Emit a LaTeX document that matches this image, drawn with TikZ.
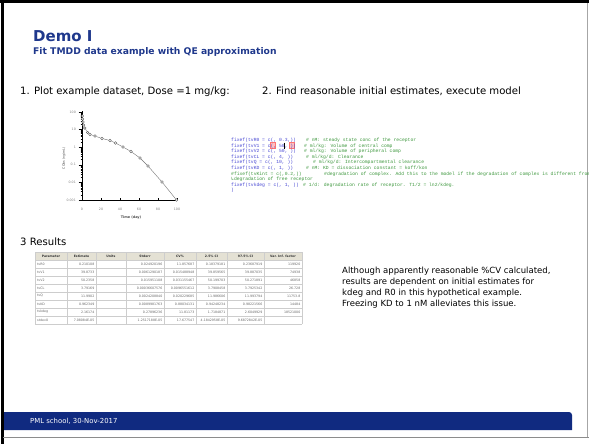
\documentclass[tikz,border=0pt]{standalone}
\usepackage{fontspec}
\setmainfont{DejaVu Sans}
\newfontfamily\codefont{Liberation Mono}
\newfontfamily\arrowfont{DejaVu Sans Mono}
\usetikzlibrary{positioning}
\definecolor{titleblue}{RGB}{31,56,140}
\definecolor{footblue}{RGB}{16,42,128}
\definecolor{codeblue}{RGB}{70,70,210}
\definecolor{cmtgreen}{RGB}{60,150,60}
\definecolor{hdrfill}{RGB}{228,225,212}
\definecolor{gridgray}{RGB}{205,205,205}
\tikzstyle{heading} = [anchor=base west, inner sep=0, font=\fontsize{10.1}{12}\selectfont]
\tikzstyle{para} = [anchor=base west, inner sep=0, font=\fontsize{8.5}{11}\selectfont]
\tikzstyle{code} = [anchor=base west, inner sep=0, text=codeblue, font=\codefont\fontsize{4.7}{5.6}\selectfont]
\tikzstyle{comment} = [code, text=cmtgreen]
\tikzstyle{ticklab} = [inner sep=0, text=black!50, font=\fontsize{3.2}{4}\selectfont]
\tikzstyle{hdr} = [inner sep=0, text=black!80, font=\bfseries\fontsize{3.1}{4}\selectfont]
\tikzstyle{cell} = [inner sep=0, anchor=east, text=black!60, font=\fontsize{3.2}{4}\selectfont]
\tikzstyle{cellL} = [cell, anchor=west]
\tikzstyle{datapt} = [circle, draw=black!70, fill=white, inner sep=0, minimum size=2.6]

\begin{document}
\begin{tikzpicture}[x=1pt,y=-1pt]
\useasboundingbox (0,0) rectangle (589,444);
% slide frame
\draw[line width=3] (0,1.5) -- (589,1.5);
\draw[line width=3] (2,0) -- (2,444);
\draw[black!35, line width=0.8] (587,3) -- (587,437);
\draw[black!45, line width=1] (3,437) -- (589,437);
% footer
\fill[footblue] (4,430) -- (4,412) [rounded corners=3] -- (572,412) [sharp corners] -- (572,430) -- cycle;
\node (foot) [anchor=base west, inner sep=0, text=white, font=\fontsize{6.9}{8}\selectfont] at (30,423.5) {PML school, 30-Nov-2017};
%-----------------------------------------------
% title
\node (title) [anchor=base west, inner sep=0, text=titleblue, font=\bfseries\fontsize{15}{18}\selectfont] at (33,41.7) {Demo I};
\node (subtitle) [anchor=base west, inner sep=0, text=titleblue, font=\bfseries\fontsize{9.2}{11}\selectfont] at (33,55) {Fit TMDD data example with QE approximation};
\node (step1) [heading] at (20,94) {1. Plot example dataset, Dose =1 mg/kg:};
\node (step2) [heading] at (262,94) {2. Find reasonable initial estimates, execute model};
\node (step3) [heading] at (20,245) {3 Results};
%-----------------------------------------------
% plot of the data
\draw[line width=0.8] (82,111) -- (82,200);
\draw[line width=0.5] (82,200) -- (177,200);
\foreach \k/\lab in {0/100,1/10,2/1,3/0.1,4/0.01,5/0.001}{
  \pgfmathsetmacro\yy{112+17.6*\k}
  \draw[line width=0.5] (78.5,\yy) -- (82,\yy);
  \node (yl\k) [ticklab, anchor=east] at (76,\yy) {\lab};
}
\foreach \k in {0,...,4}
  \foreach \m in {2,...,9}{
    \pgfmathsetmacro\yy{112+17.6*(\k+1)-17.6*log10(\m)}
    \draw[line width=0.3] (80.5,\yy) -- (82,\yy);
  }
\foreach \t [count=\i] in {0,20,...,100}{
  \pgfmathsetmacro\xx{82+0.95*\t}
  \draw[line width=0.4] (\xx,200) -- (\xx,198);
  \node (xl\i) [ticklab] at (\xx,209) {\t};
}
\node (ylab) [ticklab, rotate=90, text=black!70] at (64,158) {CObs (ng/mL)};
\node (xlab) [ticklab, text=black!70, font=\bfseries\fontsize{3.4}{4}\selectfont] at (131,218) {Time (day)};
\foreach \px/\py [count=\i] in {82.3/116,82.6/119,83/122,83.6/125,84.8/128,87.6/132.5,90/134.5,95/136,102/138.5,110/140.5,115.5/143,123/147,131/151.5,140/158,148/166,162/182,176.5/200}
  \node (d\i) [datapt] at (\px,\py) {};
\foreach \i [evaluate=\i as \j using int(\i+1)] in {1,...,16}
  \draw[black!55, line width=0.4] (d\i) -- (d\j);
%-----------------------------------------------
% model code
\fill[red!25, draw=red!55, line width=0.3] (270,142.5) rectangle (275,148.5);
\fill[red!25, draw=red!55, line width=0.3] (289.5,142.5) rectangle (294.5,148.5);
\node (c1) [code] at (231,141.5) {fixef(tvR0 = c(, 0.3,))};
\node (c2) [code] at ([yshift=-5.6pt]c1.base west) {fixef(tvV1 = c(, 50, ))};
\node (c3) [code] at ([yshift=-5.6pt]c2.base west) {fixef(tvV2 = c(, 50, ))};
\node (c4) [code] at ([yshift=-5.6pt]c3.base west) {fixef(tvCL = c(, 4, ))};
\node (c5) [code] at ([yshift=-5.6pt]c4.base west) {fixef(tvQ = c(, 10, ))};
\node (c6) [code] at ([yshift=-5.6pt]c5.base west) {fixef(tvKD = c(, 1, ))};
\node (c7) [comment] at ([yshift=-5.6pt]c6.base west) {\#fixef(tvKint = c(,0.2,))};
\node (c8) [comment] at ([yshift=-5.6pt]c7.base west) {{\arrowfont ↳}degradation of free receptor};
\node (c9) [code] at ([yshift=-5.6pt]c8.base west) {fixef(tvkdeg = c(, 1, ))};
\node (c10) [code] at ([yshift=-5.6pt]c9.base west) {)};
\draw[line width=0.5] (284.5,142.5) -- (284.5,148.5);
\node (m1) [comment] at (306,0 |- c1.base) {\# nM: steady state conc of the receptor};
\node (m2) [comment] at (304,0 |- c2.base) {\# ml/kg: Volume of central comp};
\node (m3) [comment] at (304,0 |- c3.base) {\# ml/kg: Volume of peripheral comp};
\node (m4) [comment] at (306,0 |- c4.base) {\# ml/kg/d: Clearance};
\node (m5) [comment] at (313,0 |- c5.base) {\# ml/kg/d: Intercompartmental clearance};
\node (m6) [comment] at (306,0 |- c6.base) {\# nM: KD = dissociation constant = koff/kon};
\node (m7) [comment] at (324,0 |- c7.base) {\#degradation of complex. Add this to the model if the degradation of complex is different from};
\node (m9) [comment] at (303,0 |- c9.base) {\# 1/d: degradation rate of receptor. T1/2 = ln2/kdeg.};
%-----------------------------------------------
% results table
\fill[hdrfill] (35,252) rectangle (302,260);
\foreach \x in {35,67,96,126,164,196,227,264,302}
  \draw[gridgray, line width=0.4] (\x,252) -- (\x,324);
\foreach \yy in {252,260,...,324}
  \draw[gridgray, line width=0.4] (35,\yy) -- (302,\yy);
\foreach \h/\x [count=\i] in {Parameter/51,Estimate/81.5,Units/111,Stderr/145,CV\%/180,2.5\% CI/211.5,97.5\% CI/245.5,Var. Inf. factor/283}
  \node (h\i) [hdr] at (\x,256) {\h};
\foreach \r/\p/\e/\s/\cv/\lo/\hi/\vf in {
  1/tvR0/0.210108/0.024920196/11.857687/0.18379181/0.23687919/119920,
  2/tvV1/39.8733/0.0061290187/0.015488948/39.859565/39.887035/74938,
  3/tvV2/50.2358/0.015951108/0.031155467/50.199703/50.271891/46858,
  4/tvCL/3.79169/0.00036607576/0.0096551612/3.7908458/3.7925342/26.728,
  5/tvQ/11.9902/0.0024208840/0.020229685/11.986606/11.993794/11753.8,
  6/tvKD/0.962349/0.0089981763/0.88034131/0.94248234/0.98221566/14484,
  7/tvkdeg/2.16174/0.27896236/11.81173/1.7184871/2.6049929/18521000,
  8/stdev0/7.08084E-05/1.2517188E-05/17.677547/4.1842958E-05/9.6872842E-05/{}}{
  \pgfmathsetmacro\yy{264+(\r-1)*8}
  \node (p\r) [cellL] at (37,\yy) {\p};
  \node (e\r) [cell] at (94.5,\yy) {\e};
  \node (s\r) [cell] at (162.5,\yy) {\s};
  \node (v\r) [cell] at (194.5,\yy) {\cv};
  \node (l\r) [cell] at (225.5,\yy) {\lo};
  \node (u\r) [cell] at (262.5,\yy) {\hi};
  \node (f\r) [cell] at (300.5,\yy) {\vf};
}
%-----------------------------------------------
% remark
\node (note1) [para] at (342,273) {Although apparently reasonable \%CV calculated,};
\node (note2) [para] at ([yshift=-11pt]note1.base west) {results are dependent on initial estimates for};
\node (note3) [para] at ([yshift=-11pt]note2.base west) {kdeg and R0 in this hypothetical example.};
\node (note4) [para] at ([yshift=-11pt]note3.base west) {Freezing KD to 1 nM alleviates this issue.};
\end{tikzpicture}
\end{document}
